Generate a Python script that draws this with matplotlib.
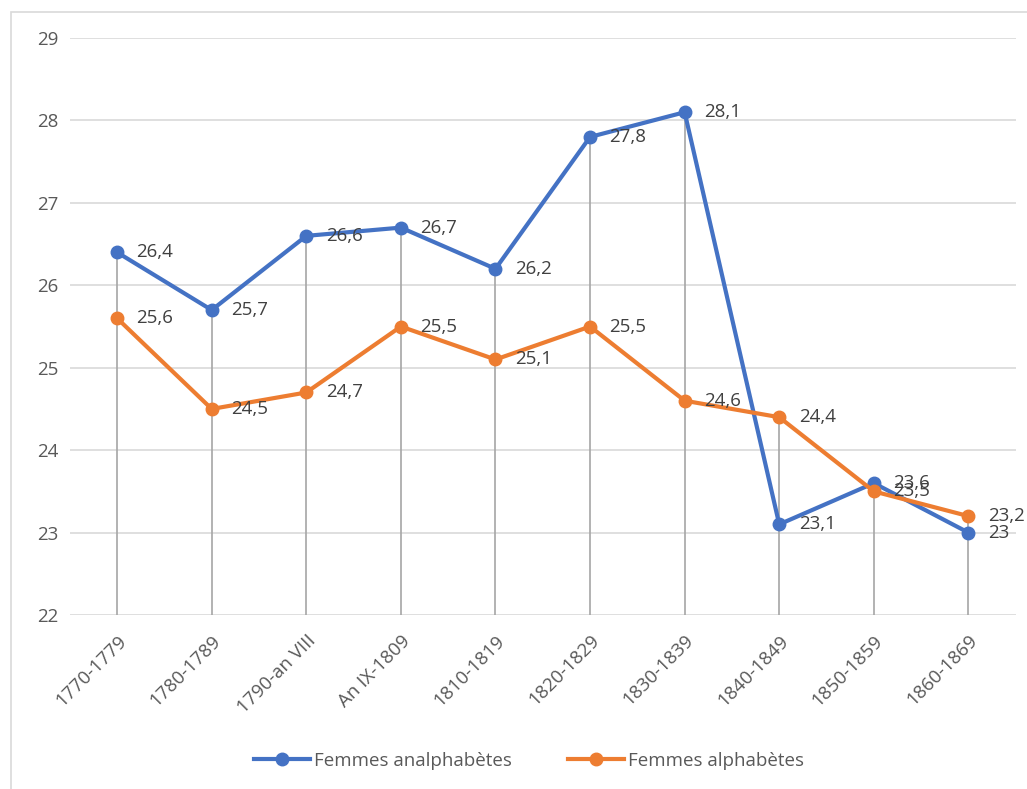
import matplotlib.pyplot as plt
from matplotlib.patches import Rectangle
from matplotlib.lines import Line2D

plt.rcParams['font.family'] = ['Open Sans', 'DejaVu Sans']

periodes = ['1770-1779', '1780-1789', '1790-an VIII', 'An IX-1809', '1810-1819',
            '1820-1829', '1830-1839', '1840-1849', '1850-1859', '1860-1869']
analphabetes = [26.4, 25.7, 26.6, 26.7, 26.2, 27.8, 28.1, 23.1, 23.6, 23.0]
alphabetes = [25.6, 24.5, 24.7, 25.5, 25.1, 25.5, 24.6, 24.4, 23.5, 23.2]

bleu = '#4472C4'
orange = '#ED7D31'
gris = '#595959'

fig = plt.figure(figsize=(10.27, 7.89), dpi=100)
ax = fig.add_axes([0.068, 0.2205, 0.921, 0.7313])

# cadre du graphique
fig.patches.append(Rectangle((0.011, -0.01), 1.1, 0.995, transform=fig.transFigure,
                             fill=False, edgecolor='#D9D9D9', linewidth=1.2))

x = list(range(len(periodes)))

# lignes de projection
for i in x:
    ax.vlines(i, 22, max(analphabetes[i], alphabetes[i]), color='#A6A6A6', linewidth=1.2, zorder=1)

ax.plot(x, analphabetes, color=bleu, linewidth=3, marker='o', markersize=9, zorder=3,
        label='Femmes analphabètes')
ax.plot(x, alphabetes, color=orange, linewidth=3, marker='o', markersize=9, zorder=3,
        label='Femmes alphabètes')

def fmt(v):
    return ('%g' % v).replace('.', ',')

for serie in (analphabetes, alphabetes):
    for i, v in enumerate(serie):
        ax.annotate(fmt(v), (i, v), xytext=(14, 0), textcoords='offset points',
                    ha='left', va='center', fontsize=13.5, color='#404040', zorder=4)

ax.set_xlim(-0.5, len(periodes) - 0.5)
ax.set_ylim(22, 29)
ax.set_yticks(range(22, 30))
ax.set_xticks(x)
ax.set_xticklabels(periodes, rotation=45, ha='right', rotation_mode='anchor')
ax.tick_params(axis='both', length=0, labelsize=13.5, colors=gris)
ax.tick_params(axis='y', pad=8)
ax.tick_params(axis='x', pad=12)

ax.grid(axis='y', color='#D9D9D9', linewidth=1.2)
ax.set_axisbelow(True)
for s in ax.spines.values():
    s.set_visible(False)

handles = [Line2D([], [], color=bleu, linewidth=3, marker='o', markersize=9),
           Line2D([], [], color=orange, linewidth=3, marker='o', markersize=9)]
fig.legend(handles, ['Femmes analphabètes', 'Femmes alphabètes'], loc='center',
           bbox_to_anchor=(0.515, 0.036), ncol=2, frameon=False, fontsize=13.5,
           labelcolor=gris, handlelength=3, columnspacing=3, handletextpad=0.2)

fig.savefig('out.png', dpi=100)
